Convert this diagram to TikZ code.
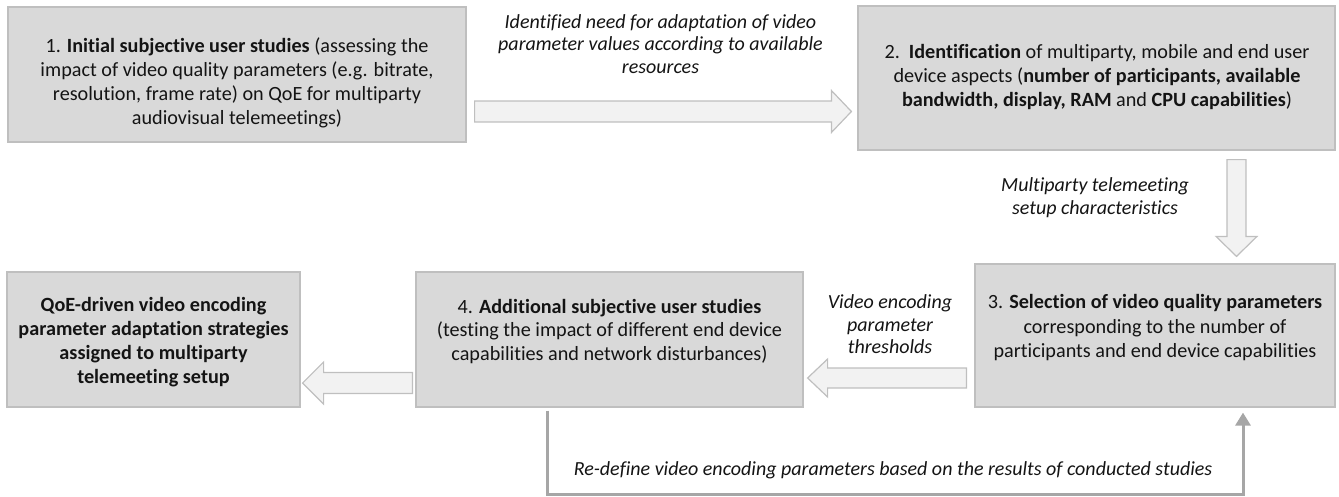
\documentclass[tikz,border=0pt]{standalone}
\usepackage{fontspec}
\setmainfont{Carlito}[Ligatures=NoCommon]
\usetikzlibrary{calc,arrows.meta}
\definecolor{boxfill}{HTML}{D9D9D9}
\definecolor{boxline}{HTML}{BFBFBF}
\definecolor{arrfill}{HTML}{F2F2F2}
\definecolor{fbline}{HTML}{A6A6A6}
\definecolor{txtcol}{HTML}{141414}
\newcommand\blockarr[5]{%
  \draw[barrow] let \p1=(#1), \p2=(#2),
    \n1={atan2(\y2-\y1,\x2-\x1)}, \n2={veclen(\x2-\x1,\y2-\y1)} in
    [shift={(\p1)}, rotate=\n1]
    (0,#3) -- ({\n2-#5},#3) -- ({\n2-#5},#4) -- ({\n2},0)
    -- ({\n2-#5},-#4) -- ({\n2-#5},-#3) -- (0,-#3) -- cycle;}
\begin{document}
\begin{tikzpicture}[x=1pt,y=-1pt,
  box/.style={draw=boxline, fill=boxfill, line width=1.2pt, inner sep=0pt},
  txt/.style={align=center, font=\fontsize{20.2}{23.8}\selectfont, text=txtcol, inner sep=0pt},
  lbl/.style={align=center, font=\fontsize{20}{22.5}\selectfont\itshape, text=txtcol, inner sep=0pt},
  barrow/.style={draw=boxline, fill=arrfill, line width=1.2pt, line join=miter},
  fb/.style={draw=fbline, line width=3pt, line join=miter},
]
\useasboundingbox (0,0) rectangle (1339,496);
% boxes
\node[box, minimum width=458pt, minimum height=135pt] (b1) at (237,74.5) {};
\node[box, minimum width=477pt, minimum height=144pt] (b2) at (1096.5,78) {};
\node[box, minimum width=360pt, minimum height=143pt] (b3) at (1155,335.5) {};
\node[box, minimum width=387pt, minimum height=135pt] (b4) at (609.5,339.5) {};
\node[box, minimum width=293pt, minimum height=135pt] (b5) at (153.5,339.5) {};
% box texts
\node[txt] (t1) at (237,83) {1. \textbf{Initial subjective user studies} (assessing the\\
  impact of video quality parameters (e.g. bitrate,\\
  resolution, frame rate) on QoE for multiparty\\
  audiovisual telemeetings)};
\node[txt] (t2) at (1097,77) {2.~~\textbf{Identification} of multiparty, mobile and end user\\
  device aspects (\textbf{number of participants, available}\\
  \textbf{bandwidth, display, RAM} and \textbf{CPU capabilities})};
\node[txt, font=\fontsize{20.2}{24.5}\selectfont] (t3) at (1155,328) {3. \textbf{Selection of video quality parameters}\\
  corresponding to the number of\\
  participants and end device capabilities};
\node[txt] (t4) at (609.5,331.5) {4. \textbf{Additional subjective user studies}\\
  (testing the impact of different end device\\
  capabilities and network disturbances)};
\node[txt, font=\fontsize{20.2}{23.8}\selectfont\bfseries] (t5) at (153.5,342) {QoE-driven video encoding\\
  parameter adaptation strategies\\
  assigned to multiparty\\
  telemeeting setup};
% block arrows
\coordinate (a1s) at ($(b1.east |- 0,111.5)+(8,0)$);
\coordinate (a1e) at ($(b2.west |- 0,111.5)+(-6,0)$);
\blockarr{a1s}{a1e}{10.5}{21}{20}
\coordinate (a2s) at ($(b2.south -| 1236.5,0)+(0,9)$);
\coordinate (a2e) at ($(b3.north -| 1236.5,0)+(0,-7)$);
\blockarr{a2s}{a2e}{9.5}{20.5}{20}
\coordinate (a3s) at ($(b3.west |- 0,378)+(-8,0)$);
\coordinate (a3e) at ($(b4.east |- 0,378)+(4,0)$);
\blockarr{a3s}{a3e}{10}{19}{20}
\coordinate (a4s) at ($(b4.west |- 0,383)+(-3,0)$);
\coordinate (a4e) at ($(b5.east |- 0,383)+(2,0)$);
\blockarr{a4s}{a4e}{10.5}{21}{21}
% feedback connector
\coordinate (f1) at ($(b4.south -| 547,0)+(0,3)$);
\coordinate (f2) at ($(b3.south -| 1243,0)+(0,5)$);
\draw[fb, -{Triangle[length=13pt,width=15pt]}] (f1) -- (f1 |- 0,494) -| (f2);
% labels
\node[lbl] (l1) at (660.5,44) {Identified need for adaptation of video\\
  parameter values according to available\\ resources};
\node[lbl] (l2) at (1095,197.5) {Multiparty telemeeting\\ setup characteristics};
\node[lbl] (l3) at (890,324.5) {Video encoding\\ parameter\\ thresholds};
\node[lbl] (l4) at (893,470) {Re-define video encoding parameters based on the results of conducted studies};
\end{tikzpicture}
\end{document}
